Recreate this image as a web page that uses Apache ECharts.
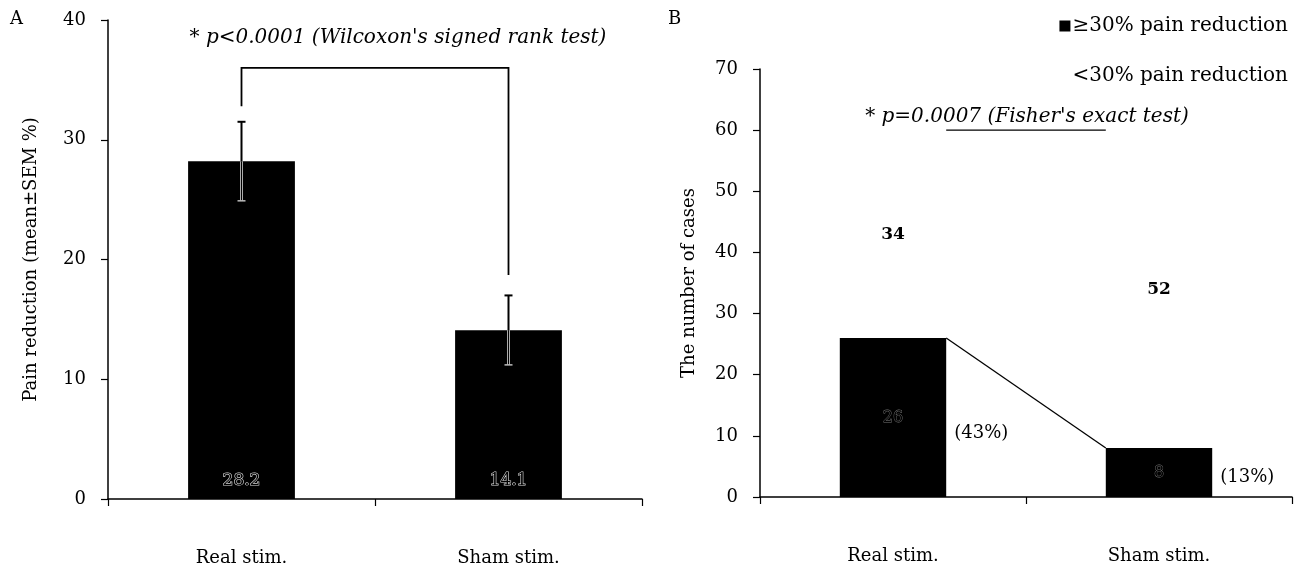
<!DOCTYPE html>
<html>
<head>
<meta charset="utf-8">
<script src="https://cdn.jsdelivr.net/npm/echarts@6/dist/echarts.min.js"></script>
<style>
  html, body { margin: 0; padding: 0; background: #fff; }
  #main { width: 1308px; height: 574px; }
</style>
</head>
<body>
<div id="main"></div>
<script>
// data
var categories = ['Real stim.', 'Sham stim.'];
var meanReduction = [28.2, 14.1];
var semReduction = [3.3, 2.9];
// Wilcoxon bracket: left leg bottom, top, right leg bottom
var bracketA = [32.8, 36.0, 18.7];
var responders = [26, 8];
var nonResponders = [34, 52];
var responderPct = ['(43%)', '(13%)'];
var fisherLevel = 60;
var ticksA = [0, 40, 10];
var ticksB = [0, 70, 10];

var FONT = 'DejaVu Serif';
var BAR_W = 0.4;

var myChart = echarts.init(document.getElementById('main'));

function axisY(t, name, gap) {
    return {
        type: 'value',
        min: t[0], max: t[1], interval: t[2],
        name: name,
        nameLocation: 'middle',
        nameRotate: 90,
        nameGap: gap,
        nameTextStyle: { fontFamily: FONT, fontSize: 18, color: '#000' },
        axisLine: { show: true, lineStyle: { color: '#000', width: 1.5 } },
        axisTick: { show: true, length: 7, lineStyle: { color: '#000', width: 1.2 } },
        axisLabel: { margin: 22, fontFamily: FONT, fontSize: 18, color: '#000' },
        splitLine: { show: false }
    };
}

function axisX(gridIndex) {
    return {
        type: 'category',
        gridIndex: gridIndex,
        data: categories,
        axisLine: { lineStyle: { color: '#000', width: 1.5 } },
        axisTick: { show: true, length: 7, alignWithLabel: false, lineStyle: { color: '#000', width: 1.2 } },
        axisLabel: { margin: 50, fontFamily: FONT, fontSize: 18, color: '#000' }
    };
}

function renderErrorBar(params, api) {
    var x = api.value(0), m = api.value(1), s = api.value(2);
    var hi = api.coord([x, m + s]);
    var lo = api.coord([x, m - s]);
    var top = api.coord([x, m]);
    var c = 4;
    return {
        type: 'group',
        children: [
            { type: 'line', shape: { x1: hi[0], y1: hi[1], x2: top[0], y2: top[1] }, style: { stroke: '#000', lineWidth: 2 } },
            { type: 'line', shape: { x1: hi[0] - c, y1: hi[1], x2: hi[0] + c, y2: hi[1] }, style: { stroke: '#000', lineWidth: 2 } },
            { type: 'line', shape: { x1: top[0], y1: top[1], x2: lo[0], y2: lo[1] }, style: { stroke: '#aaa', lineWidth: 3 } },
            { type: 'line', shape: { x1: top[0], y1: top[1], x2: lo[0], y2: lo[1] }, style: { stroke: '#000', lineWidth: 1 } },
            { type: 'line', shape: { x1: lo[0] - c, y1: lo[1], x2: lo[0] + c, y2: lo[1] }, style: { stroke: '#bbb', lineWidth: 1.5 } }
        ]
    };
}

function renderBracketA(params, api) {
    var a = api.coord([0, bracketA[0]]);
    var b = api.coord([0, bracketA[1]]);
    var c = api.coord([1, bracketA[1]]);
    var d = api.coord([1, bracketA[2]]);
    return {
        type: 'polyline',
        shape: { points: [a, b, c, d] },
        style: { stroke: '#000', lineWidth: 1.8, fill: null }
    };
}

function halfBar(api) {
    return api.size([1, 0])[0] * BAR_W / 2;
}

function renderConnector(params, api) {
    var h = halfBar(api);
    var p0 = api.coord([0, responders[0]]);
    var p1 = api.coord([1, responders[1]]);
    var f0 = api.coord([0, fisherLevel]);
    var f1 = api.coord([1, fisherLevel]);
    return {
        type: 'group',
        children: [
            { type: 'line', shape: { x1: p0[0] + h, y1: p0[1], x2: p1[0] - h, y2: p1[1] }, style: { stroke: '#000', lineWidth: 1.3 } },
            { type: 'line', shape: { x1: f0[0] + h, y1: f0[1], x2: f1[0] - h, y2: f1[1] }, style: { stroke: '#000', lineWidth: 1.3 } }
        ]
    };
}

function renderPct(params, api) {
    var i = params.dataIndex;
    var h = halfBar(api);
    var p = api.coord([i, responders[i] * 0.4]);
    return {
        type: 'text',
        x: p[0] + h + 8,
        y: p[1],
        style: {
            text: responderPct[i],
            fontFamily: FONT, fontSize: 18, fill: '#000',
            verticalAlign: 'middle', align: 'left'
        }
    };
}

var option = {
    backgroundColor: '#fff',
    animation: false,
    textStyle: { fontFamily: FONT },
    grid: [
        { left: 108, top: 20, width: 534, height: 479, outerBoundsMode: 'none' },
        { left: 760, top: 69, width: 532, height: 428, outerBoundsMode: 'none' }
    ],
    legend: [
        {
            data: [{ name: '≥30% pain reduction', icon: 'rect' }],
            right: 15, top: 11,
            itemWidth: 11, itemHeight: 11, itemGap: 0,
            textStyle: { fontFamily: FONT, fontSize: 20, color: '#000', padding: [0, 0, 0, -3] }
        },
        {
            data: [{ name: '<30% pain reduction', icon: 'rect' }],
            right: 15, top: 61,
            itemWidth: 11, itemHeight: 11, itemGap: 0,
            textStyle: { fontFamily: FONT, fontSize: 20, color: '#000' }
        }
    ],
    xAxis: [axisX(0), axisX(1)],
    yAxis: [
        axisY(ticksA, 'Pain reduction (mean±SEM %)', 68),
        Object.assign(axisY(ticksB, 'The number of cases', 62), { gridIndex: 1 })
    ],
    graphic: [
        { type: 'text', left: 10, top: 10, style: { text: 'A', fontFamily: FONT, fontSize: 18, fill: '#000' } },
        { type: 'text', left: 668, top: 10, style: { text: 'B', fontFamily: FONT, fontSize: 18, fill: '#000' } },
        { type: 'text', x: 398, y: 38, style: { text: '* p<0.0001 (Wilcoxon\'s signed rank test)', fontFamily: FONT, fontStyle: 'italic', fontSize: 20, fill: '#000', align: 'center', verticalAlign: 'middle' } },
        { type: 'text', x: 1027, y: 117, style: { text: '* p=0.0007 (Fisher\'s exact test)', fontFamily: FONT, fontStyle: 'italic', fontSize: 20, fill: '#000', align: 'center', verticalAlign: 'middle' } }
    ],
    series: [
        {
            name: 'Pain reduction',
            type: 'bar',
            xAxisIndex: 0, yAxisIndex: 0,
            barWidth: '40%',
            data: meanReduction,
            itemStyle: { color: '#000' },
            label: {
                show: true, position: 'insideBottom', distance: 10,
                fontFamily: FONT, fontSize: 17, color: '#000',
                textBorderColor: '#ddd', textBorderWidth: 1.2
            }
        },
        {
            type: 'custom',
            xAxisIndex: 0, yAxisIndex: 0,
            silent: true, z: 5,
            renderItem: renderErrorBar,
            encode: { x: 0, y: 1 },
            data: meanReduction.map(function (m, i) { return [i, m, semReduction[i]]; })
        },
        {
            type: 'custom',
            xAxisIndex: 0, yAxisIndex: 0,
            silent: true, z: 5,
            renderItem: renderBracketA,
            encode: { x: 0, y: 1 },
            data: [[0, bracketA[1]]]
        },
        {
            name: '≥30% pain reduction',
            type: 'bar',
            xAxisIndex: 1, yAxisIndex: 1,
            stack: 'cases',
            barWidth: '40%',
            data: responders,
            itemStyle: { color: '#000' },
            label: {
                show: true, position: 'inside',
                fontFamily: FONT, fontSize: 16, color: '#000',
                textBorderColor: '#777', textBorderWidth: 0.8
            }
        },
        {
            name: '<30% pain reduction',
            type: 'bar',
            xAxisIndex: 1, yAxisIndex: 1,
            stack: 'cases',
            barWidth: '40%',
            data: nonResponders,
            itemStyle: { color: '#fff' },
            label: {
                show: true, position: 'inside',
                fontFamily: FONT, fontSize: 17, fontWeight: 'bold', color: '#000'
            }
        },
        {
            type: 'custom',
            xAxisIndex: 1, yAxisIndex: 1,
            silent: true, z: 5,
            renderItem: renderConnector,
            encode: { x: 0, y: 1 },
            data: [[0, fisherLevel]]
        },
        {
            type: 'custom',
            xAxisIndex: 1, yAxisIndex: 1,
            silent: true, z: 5,
            renderItem: renderPct,
            encode: { x: 0, y: 1 },
            data: responders.map(function (v, i) { return [i, v]; })
        }
    ]
};

myChart.setOption(option);
</script>
</body>
</html>
